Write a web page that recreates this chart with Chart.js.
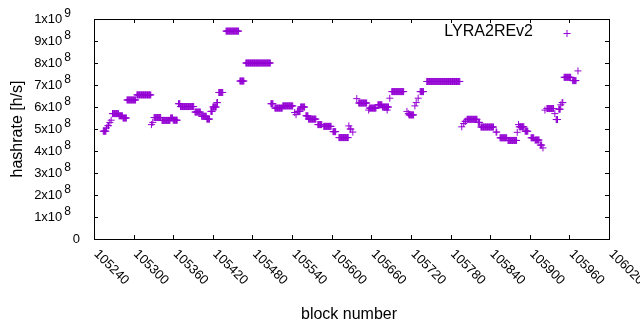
<!DOCTYPE html>
<html>
<head>
<meta charset="utf-8">
<script src="https://cdn.jsdelivr.net/npm/chart.js@4/dist/chart.umd.min.js"></script>
<style>
  html, body { margin: 0; padding: 0; background: #fff; }
  #wrap { width: 640px; height: 330px; }
</style>
</head>
<body>
<div id="wrap"><canvas id="hashChart"></canvas></div>
<script>
// hashrate per block, LYRA2REv2 — stored as runs of blocks with the same rate
const runFrom = [
  105254, 105259, 105261, 105264, 105266, 105268, 105278, 105284, 105290, 105305,
  105327, 105329, 105331, 105343, 105356, 105360, 105368, 105371, 105393, 105403,
  105411, 105417, 105420, 105426, 105429, 105440, 105461, 105470, 105508, 105514,
  105526, 105544, 105546, 105548, 105553, 105561, 105565, 105579, 105588, 105602,
  105611, 105626, 105628, 105632, 105638, 105641, 105656, 105657, 105670, 105677,
  105684, 105688, 105691, 105714, 105716, 105717, 105726, 105728, 105731, 105734,
  105744, 105797, 105800, 105802, 105805, 105822, 105826, 105849, 105855, 105867,
  105881, 105883, 105884, 105893, 105902, 105908, 105916, 105920, 105923, 105926,
  105938, 105940, 105944, 105947, 105949, 105952, 105965, 105973
];
const runTo = [
  105258, 105259, 105262, 105264, 105266, 105277, 105283, 105289, 105303, 105326,
  105327, 105329, 105341, 105355, 105359, 105366, 105370, 105391, 105401, 105410,
  105415, 105419, 105425, 105427, 105435, 105459, 105467, 105507, 105511, 105525,
  105541, 105544, 105546, 105552, 105559, 105564, 105576, 105585, 105599, 105606,
  105625, 105626, 105629, 105632, 105638, 105653, 105656, 105667, 105676, 105686,
  105684, 105688, 105709, 105714, 105716, 105724, 105726, 105728, 105731, 105739,
  105794, 105797, 105800, 105803, 105820, 105824, 105845, 105850, 105865, 105880,
  105881, 105883, 105891, 105897, 105906, 105914, 105918, 105920, 105923, 105936,
  105938, 105942, 105946, 105947, 105950, 105962, 105970, 105973
];
const runRate = [
  4.90e8, 5.05e8, 5.15e8, 5.30e8, 5.40e8, 5.70e8, 5.60e8, 5.50e8, 6.32e8, 6.55e8,
  5.20e8, 5.30e8, 5.52e8, 5.39e8, 5.50e8, 5.40e8, 6.15e8, 6.02e8, 5.77e8, 5.58e8,
  5.45e8, 5.80e8, 6.00e8, 6.20e8, 6.66e8, 9.45e8, 7.18e8, 8.00e8, 6.15e8, 5.95e8,
  6.05e8, 5.75e8, 5.65e8, 5.80e8, 6.00e8, 5.60e8, 5.45e8, 5.20e8, 5.12e8, 4.88e8,
  4.61e8, 5.14e8, 5.00e8, 4.86e8, 6.38e8, 6.18e8, 5.86e8, 5.95e8, 6.10e8, 6.00e8,
  5.86e8, 6.40e8, 6.70e8, 5.80e8, 5.70e8, 5.64e8, 6.05e8, 6.20e8, 6.40e8, 6.70e8,
  7.16e8, 5.10e8, 5.25e8, 5.35e8, 5.44e8, 5.30e8, 5.09e8, 4.86e8, 4.60e8, 4.48e8,
  4.85e8, 5.20e8, 5.10e8, 4.90e8, 4.60e8, 4.50e8, 4.27e8, 4.14e8, 5.86e8, 5.93e8,
  5.70e8, 5.43e8, 5.90e8, 6.10e8, 6.20e8, 7.35e8, 7.20e8, 7.64e8
];

const xTicks = [105240, 105300, 105360, 105420, 105480, 105540, 105600,
                105660, 105720, 105780, 105840, 105900, 105960, 106020];
const yTicks = [0, 1e8, 2e8, 3e8, 4e8, 5e8, 6e8, 7e8, 8e8, 9e8, 1e9];

const seriesName = 'LYRA2REv2';
const xTitle = 'block number';
const yTitle = 'hashrate [h/s]';

const PURPLE = '#9400d3';
const FONT = '"Liberation Sans", Arial, sans-serif';

// one point per block inside each run
const points = [];
runFrom.forEach((from, i) => {
  for (let b = from; b <= runTo[i]; b++) points.push({ x: b, y: runRate[i] });
});

// ─── frame, ticks, labels in gnuplot style ────────────────────────────────
const gnuplotFrame = {
  id: 'gnuplotFrame',
  afterDraw(chart) {
    const { ctx, chartArea: a, scales: { x, y } } = chart;
    ctx.save();
    ctx.strokeStyle = '#000';
    ctx.lineWidth = 1;
    ctx.strokeRect(a.left + 0.5, a.top + 0.5, a.right - a.left, a.bottom - a.top);

    ctx.beginPath();
    xTicks.forEach(t => {
      const px = Math.round(x.getPixelForValue(t)) + 0.5;
      ctx.moveTo(px, a.bottom); ctx.lineTo(px, a.bottom - 4);
      ctx.moveTo(px, a.top);    ctx.lineTo(px, a.top + 4);
    });
    yTicks.forEach(t => {
      const py = Math.round(y.getPixelForValue(t)) + 0.5;
      ctx.moveTo(a.left, py);  ctx.lineTo(a.left + 4, py);
      ctx.moveTo(a.right, py); ctx.lineTo(a.right - 4, py);
    });
    ctx.stroke();

    ctx.fillStyle = '#000';

    // x tick labels, running down-right from the tick
    ctx.font = '13px ' + FONT;
    ctx.textAlign = 'left';
    ctx.textBaseline = 'middle';
    xTicks.forEach(t => {
      const px = x.getPixelForValue(t);
      ctx.save();
      ctx.translate(px + 2, a.bottom + 13);
      ctx.rotate(Math.PI / 4);
      ctx.fillText(String(t), 0, 0);
      ctx.restore();
    });

    // y tick labels as Nx10^E
    yTicks.forEach(t => {
      const py = y.getPixelForValue(t);
      ctx.textAlign = 'right';
      if (t === 0) {
        ctx.font = '13px ' + FONT;
        ctx.fillText('0', a.left - 14, py);
        return;
      }
      const exp = Math.floor(Math.log10(t) + 1e-9);
      const man = Math.round(t / Math.pow(10, exp));
      ctx.font = '12px ' + FONT;
      const supW = ctx.measureText(String(exp)).width;
      ctx.fillText(String(exp), a.left - 23, py - 5);
      ctx.font = '13px ' + FONT;
      ctx.fillText(man + 'x10', a.left - 23 - supW - 2, py);
    });

    // axis titles
    ctx.font = '16px ' + FONT;
    ctx.textAlign = 'center';
    ctx.fillText(xTitle, 349, 315);
    ctx.save();
    ctx.translate(18, (a.top + a.bottom) / 2);
    ctx.rotate(-Math.PI / 2);
    ctx.fillText(yTitle, 0, 0);
    ctx.restore();

    // key
    ctx.textAlign = 'right';
    ctx.fillText(seriesName, 533, 32);
    ctx.strokeStyle = PURPLE;
    ctx.beginPath();
    ctx.moveTo(563.5, 33.5); ctx.lineTo(570.5, 33.5);
    ctx.moveTo(567, 30); ctx.lineTo(567, 37);
    ctx.stroke();
    ctx.restore();
  }
};

new Chart(document.getElementById('hashChart'), {
  type: 'scatter',
  data: {
    datasets: [{
      label: seriesName,
      data: points,
      pointStyle: 'cross',
      pointRadius: 3.5,
      pointBorderWidth: 1,
      borderColor: PURPLE,
      backgroundColor: PURPLE,
      showLine: false
    }]
  },
  options: {
    responsive: true,
    maintainAspectRatio: false,
    animation: false,
    layout: { padding: { left: 94, right: 31, top: 19, bottom: 91 } },
    plugins: { legend: { display: false }, tooltip: { enabled: false } },
    scales: {
      x: { type: 'linear', min: xTicks[0], max: xTicks[xTicks.length - 1], display: false },
      y: { type: 'linear', min: yTicks[0], max: yTicks[yTicks.length - 1], display: false }
    }
  },
  plugins: [gnuplotFrame]
});
</script>
</body>
</html>
